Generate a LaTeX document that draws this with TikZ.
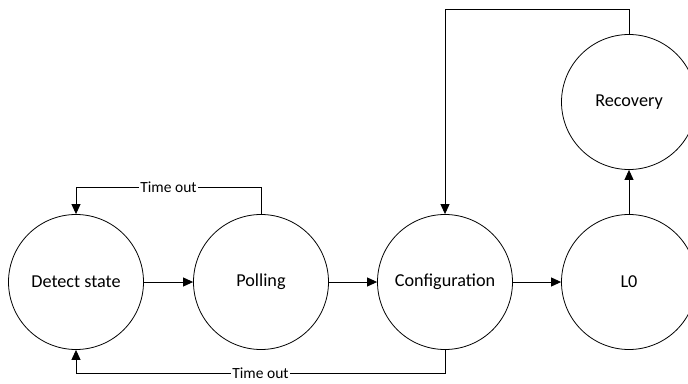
\documentclass[tikz,border=0pt]{standalone}
\usepackage{fontspec}
\setmainfont{Carlito}
\usetikzlibrary{arrows.meta}
\begin{document}
\begin{tikzpicture}[x=1pt,y=-1pt,
  state/.style={circle,draw,line width=0.8pt,minimum size=135pt,inner sep=0pt,
                font=\fontsize{18.2}{21}\selectfont},
  flow/.style={line width=0.9pt,-{Triangle[length=10pt,width=9pt]}},
  lbl/.style={fill=white,inner sep=1pt,font=\fontsize{15.5}{18}\selectfont}]
\useasboundingbox (0,0) rectangle (688,383);
\clip (0,0) rectangle (688,383);

% link states
\node[state] (det)  at (76,282)  {Detect state};
\node[state] (pol)  at (261,282) {Polling};
\node[state] (conf) at (445,282) {Configuration};
\node[state] (l0)   at (629,282) {L0};
\node[state] (rec)  at (629,102) {Recovery};

% routing levels for the loop-back lines
\coordinate (upper) at (0,187);
\coordinate (lower) at (0,373);
\coordinate (top)   at (0,9);

% forward transitions
\draw[flow] (det) -- (pol);
\draw[flow] (pol) -- (conf);
\draw[flow] (conf) -- (l0);
\draw[flow] (l0) -- (rec);

% time-outs back to detect
\draw[flow] (pol.north) -- (pol.north |- upper)
  -| node[lbl,pos=0.25] {Time out} (det.north);
\draw[flow] (conf.south) -- (conf.south |- lower)
  -| node[lbl,pos=0.25] {Time out} (det.south);

% recovery back to configuration
\draw[flow] (rec.north) -- (rec.north |- top) -| (conf.north);
\end{tikzpicture}
\end{document}
